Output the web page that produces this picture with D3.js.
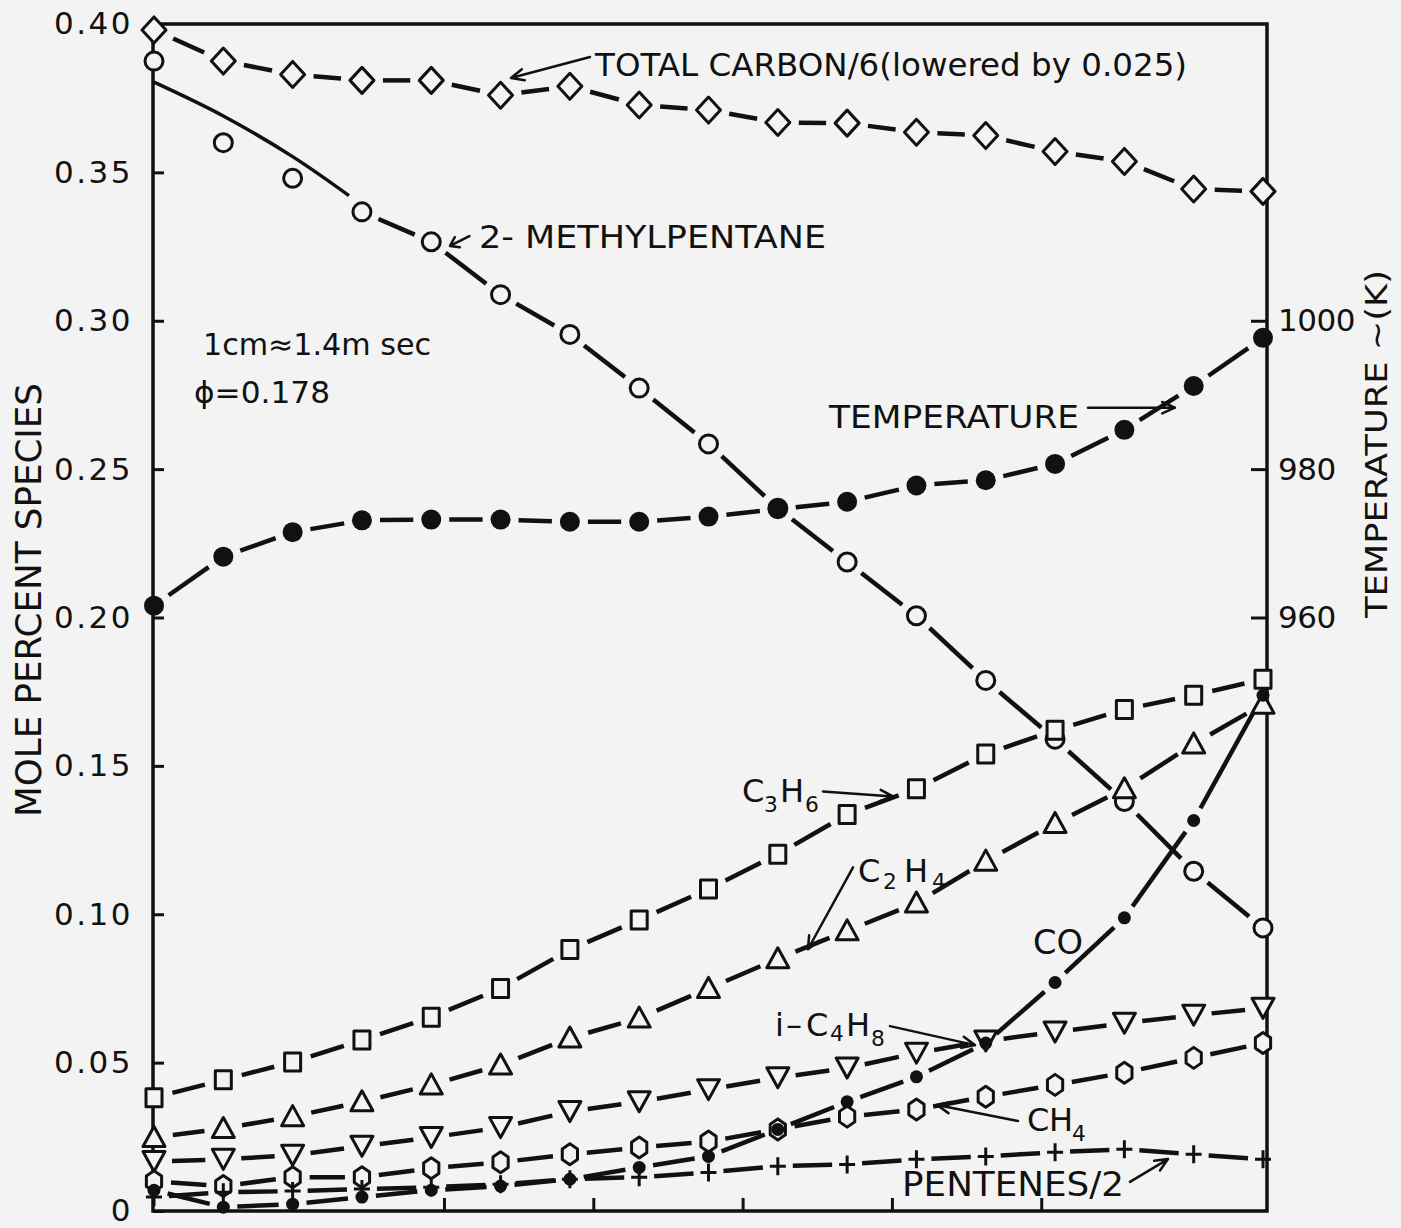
<!DOCTYPE html>
<html>
<head>
<meta charset="utf-8">
<script src="https://cdn.jsdelivr.net/npm/d3@7"></script>
<style>
  html, body { margin: 0; padding: 0; background: #f3f3f3; }
  svg { display: block; }
  text { font-family: "DejaVu Sans", sans-serif; fill: #111; }
</style>
</head>
<body>
<svg id="chart" width="1401" height="1228"></svg>
<script>
// ---- sampling positions along the reactor (one sample every ~0.46 cm of chart) ----
const sampleIndex = [0, 1, 2, 3, 4, 5, 6, 7, 8, 9, 10, 11, 12, 13, 14, 15, 16];
const firstSampleCm = 0.058;
const sampleStepCm = 0.4642;
const timeTicksCm = [2, 3, 4, 5, 6];

// ---- axis ticks ----
const moleTicks = [0, 0.05, 0.10, 0.15, 0.20, 0.25, 0.30, 0.35, 0.40];
const tempTicks = [960, 980, 1000];

// ---- measured species (mole percent) ----
const totalCarbonOffset = 0.025;   // total carbon curve is drawn lowered by this amount
const totalCarbonBy6 = [0.423, 0.4125, 0.408, 0.406, 0.406, 0.401, 0.404, 0.3977, 0.396,
                        0.3918, 0.3916, 0.3885, 0.3874, 0.382, 0.3787, 0.3694, 0.3686];
const methylpentane = [0.3875, 0.360, 0.348, 0.3367, 0.3266, 0.3088, 0.2954, 0.2773, 0.2585,
                       0.2368, 0.2187, 0.2006, 0.1788, 0.159, 0.138, 0.1145, 0.0954];
// smoothed curve through the scattered first four 2-methylpentane samples
const methylpentaneFit = [0.3804, 0.369, 0.3553, 0.339];
const temperatureK = [961.6, 968.2, 971.5, 973.1, 973.2, 973.2, 972.9, 972.9, 973.6,
                      974.6, 975.6, 977.8, 978.5, 980.7, 985.3, 991.2, 997.7];
const propylene = [0.0382, 0.0442, 0.0502, 0.0576, 0.0653, 0.075, 0.0881, 0.0981, 0.1085,
                   0.1202, 0.1336, 0.1423, 0.154, 0.162, 0.169, 0.1738, 0.1792];
const ethylene = [0.0248, 0.0278, 0.0318, 0.0368, 0.0425, 0.0492, 0.0583, 0.065, 0.075,
                  0.085, 0.0944, 0.1038, 0.1179, 0.1306, 0.1423, 0.1574, 0.1708];
const isobutene = [0.0167, 0.0174, 0.0188, 0.0218, 0.0248, 0.0281, 0.0335, 0.0368, 0.0409,
                   0.0449, 0.0482, 0.0532, 0.0573, 0.0603, 0.0633, 0.066, 0.0683];
const methane = [0.010, 0.0084, 0.0114, 0.0114, 0.0144, 0.0164, 0.0191, 0.0214, 0.0234,
                 0.0275, 0.0318, 0.0342, 0.0385, 0.0425, 0.0466, 0.0516, 0.0566];
const carbonMonoxide = [0.0070, 0.0013, 0.0023, 0.0047, 0.0070, 0.0084, 0.0107, 0.0147, 0.0184,
                        0.0275, 0.0368, 0.0452, 0.0566, 0.077, 0.0988, 0.1316, 0.1738];
const pentenesHalf = [0.0047, 0.0063, 0.0067, 0.0074, 0.008, 0.009, 0.0107, 0.0114, 0.013,
                      0.0151, 0.0157, 0.0174, 0.0184, 0.0198, 0.0208, 0.0191, 0.0174];

// ---- layout ----
const INK = "#111";
const BG = "#f3f3f3";
const plot = { left: 153, right: 1267, top: 24, bottom: 1211 };

const svg = d3.select("#chart");
svg.append("rect").attr("width", 1401).attr("height", 1228).attr("fill", BG);

const x = d3.scaleLinear().domain([0, 16]).range([154, 1263]);
const xCm = d3.scaleLinear()
  .domain([firstSampleCm, firstSampleCm + 16 * sampleStepCm])
  .range([154, 1263]);
const y = d3.scaleLinear().domain([0, 0.40]).range([plot.bottom, plot.top]);
const yT = d3.scaleLinear().domain([880, 1040]).range([plot.bottom, plot.top]);

// ---- frame and axes ----
svg.append("rect")
  .attr("x", plot.left).attr("y", plot.top)
  .attr("width", plot.right - plot.left).attr("height", plot.bottom - plot.top)
  .attr("fill", "none").attr("stroke", INK).attr("stroke-width", 3.5);

const leftAxis = svg.append("g")
  .attr("transform", `translate(${plot.left},0)`)
  .call(d3.axisLeft(y).tickValues(moleTicks).tickSize(-11).tickSizeOuter(0).tickPadding(20)
    .tickFormat(d => d === 0 ? "0" : d3.format(".2f")(d)));
const rightAxis = svg.append("g")
  .attr("transform", `translate(${plot.right},0)`)
  .call(d3.axisRight(yT).tickValues(tempTicks).tickSize(-16).tickSizeOuter(0).tickPadding(11)
    .tickFormat(d3.format("d")));
const bottomAxis = svg.append("g")
  .attr("transform", `translate(0,${plot.bottom})`)
  .call(d3.axisBottom(xCm).tickValues(timeTicksCm).tickSize(-13).tickSizeOuter(0).tickFormat(""));

[leftAxis, rightAxis, bottomAxis].forEach(g => {
  g.select(".domain").remove();
  g.selectAll(".tick line").attr("stroke", INK).attr("stroke-width", 3);
  g.selectAll(".tick text")
    .attr("fill", INK)
    .style("font-family", '"DejaVu Sans", sans-serif')
    .style("font-size", "31px");
});
leftAxis.selectAll(".tick text").style("letter-spacing", "2.5px");
rightAxis.selectAll(".tick text").style("letter-spacing", "-0.5px");

// axis titles
svg.append("text")
  .attr("transform", "translate(41,600) rotate(-90)")
  .attr("text-anchor", "middle")
  .attr("textLength", 434).attr("lengthAdjust", "spacingAndGlyphs")
  .style("font-size", "35px")
  .text("MOLE PERCENT SPECIES");
svg.append("text")
  .attr("transform", "translate(1387,444) rotate(-90)")
  .attr("text-anchor", "middle")
  .attr("textLength", 348).attr("lengthAdjust", "spacingAndGlyphs")
  .style("font-size", "30px")
  .text("TEMPERATURE ~(K)");

// ---- series ----
const markerPaths = {
  diamond: "M0,-13L12,0L0,13L-12,0Z",
  square: "M-8,-9H8V9H-8Z",
  triUp: "M0,-11L11,9H-11Z",
  triDown: "M0,10L11,-10H-11Z",
  hex: d3.range(6).map(k => {
    const a = -Math.PI / 2 + k * Math.PI / 3;
    return [8.8 * Math.cos(a), 10.5 * Math.sin(a)];
  }).map((p, k) => (k ? "L" : "M") + p[0].toFixed(2) + "," + p[1].toFixed(2)).join("") + "Z",
  cross: "M-8,0H8M0,-9V9"
};

const series = [
  { key: "totalCarbon", values: totalCarbonBy6.map(v => v - totalCarbonOffset), scale: y, marker: "diamond", gap: 21 },
  { key: "methylpentane", values: methylpentane, scale: y, marker: "circle", r: 9, gap: 18, firstSegment: 3 },
  { key: "temperature", values: temperatureK, scale: yT, marker: "dot", r: 10, gap: 18 },
  { key: "propylene", values: propylene, scale: y, marker: "square", gap: 19 },
  { key: "ethylene", values: ethylene, scale: y, marker: "triUp", gap: 19 },
  { key: "isobutene", values: isobutene, scale: y, marker: "triDown", gap: 18 },
  { key: "methane", values: methane, scale: y, marker: "hex", gap: 17 },
  { key: "carbonMonoxide", values: carbonMonoxide, scale: y, marker: "dot", r: 6.5, gap: 14 },
  { key: "pentenes", values: pentenesHalf, scale: y, marker: "cross", gap: 15 }
];

const lineLayer = svg.append("g").attr("stroke", INK).attr("stroke-width", 4.5).attr("fill", "none");
const markerLayer = svg.append("g");

// connecting strokes stop short of each marker
function gappedSegments(pts, gap, start) {
  const segs = [];
  for (let i = start; i < pts.length - 1; i++) {
    const [x1, y1] = pts[i], [x2, y2] = pts[i + 1];
    const dx = x2 - x1, dy = y2 - y1, len = Math.hypot(dx, dy);
    if (len <= 2 * gap + 2) continue;
    const ux = dx / len, uy = dy / len;
    segs.push([x1 + ux * gap, y1 + uy * gap, x2 - ux * gap, y2 - uy * gap]);
  }
  return segs;
}

series.forEach(s => {
  const pts = sampleIndex.map(i => [x(i), s.scale(s.values[i])]);
  lineLayer.append("g").attr("class", "seg-" + s.key)
    .selectAll("line")
    .data(gappedSegments(pts, s.gap, s.firstSegment || 0))
    .join("line")
    .attr("x1", d => d[0]).attr("y1", d => d[1])
    .attr("x2", d => d[2]).attr("y2", d => d[3]);
});

// solid fitted curve over the first 2-methylpentane samples
const fitPath = lineLayer.append("path")
  .attr("d", d3.line().x((d, i) => x(i)).y(d => y(d)).curve(d3.curveMonotoneX)(methylpentaneFit))
  .attr("stroke-width", 3.5);
const fitLen = fitPath.node().getTotalLength();
fitPath.attr("stroke-dasharray", `${fitLen - 16} ${fitLen}`);

series.forEach(s => {
  const g = markerLayer.append("g").attr("class", "mk-" + s.key);
  const pts = sampleIndex.map(i => ({ cx: x(i), cy: s.scale(s.values[i]) }));
  if (s.marker === "circle" || s.marker === "dot") {
    g.selectAll("circle").data(pts).join("circle")
      .attr("cx", d => d.cx).attr("cy", d => d.cy).attr("r", s.r)
      .attr("fill", s.marker === "dot" ? INK : BG)
      .attr("stroke", s.marker === "dot" ? "none" : INK)
      .attr("stroke-width", 3);
  } else {
    g.selectAll("path").data(pts).join("path")
      .attr("transform", d => `translate(${d.cx},${d.cy})`)
      .attr("d", markerPaths[s.marker])
      .attr("fill", s.marker === "cross" ? "none" : BG)
      .attr("stroke", INK)
      .attr("stroke-width", 3)
      .attr("stroke-linejoin", "round");
  }
});

// ---- annotations (positions in sample / mole-fraction units) ----
const at = (i, v) => [x(i), y(v)];
const notes = svg.append("g");

function arrow(from, to, head = 14, spread = 0.42) {
  const [x1, y1] = from, [x2, y2] = to;
  const a = Math.atan2(y2 - y1, x2 - x1);
  const p = d3.path();
  p.moveTo(x1, y1); p.lineTo(x2, y2);
  p.moveTo(x2 - head * Math.cos(a - spread), y2 - head * Math.sin(a - spread));
  p.lineTo(x2, y2);
  p.lineTo(x2 - head * Math.cos(a + spread), y2 - head * Math.sin(a + spread));
  notes.append("path").attr("d", p.toString())
    .attr("fill", "none").attr("stroke", INK).attr("stroke-width", 2.5)
    .attr("stroke-linecap", "round").attr("stroke-linejoin", "round");
}

function label(pos, str, size, length) {
  const t = notes.append("text").attr("x", pos[0]).attr("y", pos[1])
    .style("font-size", size + "px").text(str);
  if (length) t.attr("textLength", length).attr("lengthAdjust", "spacingAndGlyphs");
  return t;
}

// label made of runs, each run offset from the anchor; subscripts sit lower and smaller
function formula(pos, runs, size) {
  const t = notes.append("text").attr("x", pos[0]).attr("y", pos[1]).style("font-size", size + "px");
  runs.forEach(r => {
    t.append("tspan")
      .attr("x", pos[0] + r.dx)
      .attr("y", pos[1] + (r.sub ? r.drop : 0))
      .style("font-size", (r.sub ? size * 0.68 : size) + "px")
      .text(r.t);
  });
}

label(at(6.363, 0.3825), "TOTAL CARBON/6(lowered by 0.025)", 32, 592);
arrow(at(6.29, 0.3889), at(5.15, 0.3818));

label(at(4.689, 0.3246), "2- METHYLPENTANE", 32, 347);
arrow(at(4.55, 0.3285), at(4.27, 0.3252), 10, 0.6);

label(at(0.707, 0.2886), "1cm\u22481.4m sec", 30, 228);
label(at(0.577, 0.2724), "\u03D5=0.178", 30, 136);

label(at(9.739, 0.2640), "TEMPERATURE", 32, 250);
arrow(at(13.475, 0.2707), at(14.73, 0.2707));

formula(at(8.483, 0.1377), [
  { t: "C", dx: 0 }, { t: "3", dx: 22, sub: true, drop: 10 },
  { t: "H", dx: 38 }, { t: "6", dx: 63, sub: true, drop: 10 }
], 32);
arrow(at(9.652, 0.1414), at(10.662, 0.1397));

formula(at(10.157, 0.1108), [
  { t: "C", dx: 0 }, { t: "2", dx: 25, sub: true, drop: 7 },
  { t: "H", dx: 46 }, { t: "4", dx: 74, sub: true, drop: 7 }
], 32);
arrow(at(10.085, 0.1158), at(9.435, 0.0882));

label(at(12.682, 0.0865), "CO", 34, 50);

formula(at(8.96, 0.0589), [
  { t: "i", dx: 0 }, { t: "\u2013", dx: 11 }, { t: "C", dx: 31 },
  { t: "4", dx: 55, sub: true, drop: 5 }, { t: "H", dx: 71 },
  { t: "8", dx: 96, sub: true, drop: 10 }
], 32);
arrow(at(10.619, 0.0623), at(11.845, 0.0559));

formula(at(12.595, 0.0269), [
  { t: "C", dx: 0 }, { t: "H", dx: 22 }, { t: "4", dx: 45, sub: true, drop: 10 }
], 32);
arrow(at(12.465, 0.0303), at(11.297, 0.0357));

label(at(10.792, 0.0051), "PENTENES/2", 34, 222);
arrow(at(14.081, 0.0098), at(14.629, 0.0175));
</script>
</body>
</html>
